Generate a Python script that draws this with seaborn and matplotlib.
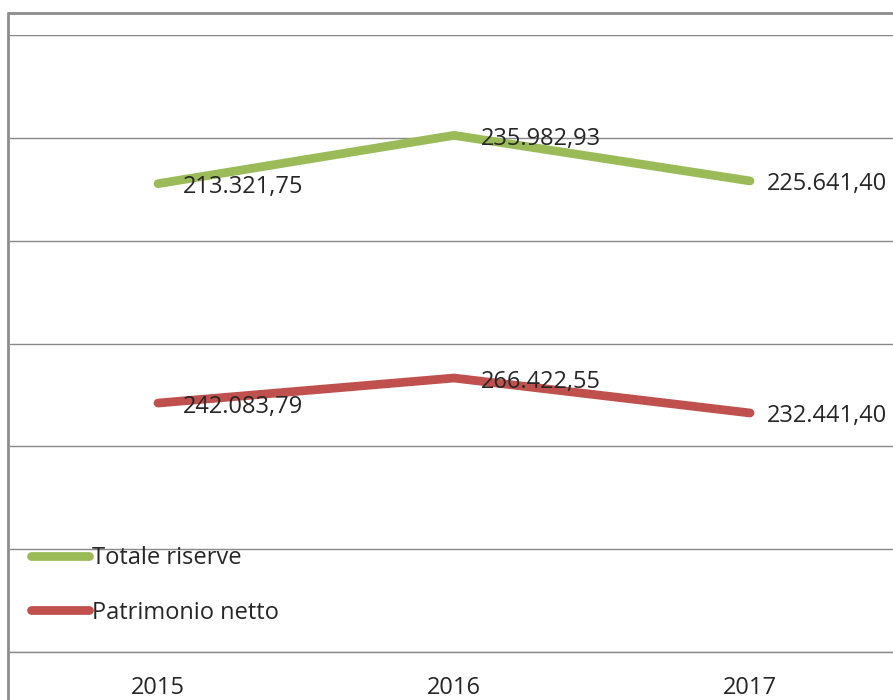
import pandas as pd
import matplotlib
matplotlib.use('Agg')
import matplotlib.pyplot as plt
from matplotlib.lines import Line2D
import seaborn as sns

# data
years = [2015, 2016, 2017]
year_labels = ['2015', '2016', '2017']
totale_riserve = [213321.75, 235982.93, 225641.40]
patrimonio_netto = [242083.79, 266422.55, 232441.40]

sns.set_style('white')
plt.rcParams['font.family'] = ['Open Sans', 'DejaVu Sans']

# grafico a linee in pila (stacked): riserve sopra il patrimonio
df_pn = pd.DataFrame({'anno': years, 'valore': patrimonio_netto, 'label': patrimonio_netto,
                      'serie': 'Patrimonio netto'})
df_ris = pd.DataFrame({'anno': years,
                       'valore': [p + r for p, r in zip(patrimonio_netto, totale_riserve)],
                       'label': totale_riserve, 'serie': 'Totale riserve'})
df = pd.concat([df_ris, df_pn], ignore_index=True)

colori = {'Totale riserve': '#9BBB59', 'Patrimonio netto': '#C0504D'}

W, H = 893, 700
fig = plt.figure(figsize=(W / 100, H / 100), dpi=100)
ax = fig.add_axes([10 / W, 48 / H, 888 / W, 617 / H])

sns.lineplot(data=df, x='anno', y='valore', hue='serie',
             hue_order=['Totale riserve', 'Patrimonio netto'],
             palette=colori, linewidth=6.3, solid_capstyle='round', ax=ax)

def fmt_it(v):
    s = f"{v:,.2f}"
    return s.replace(',', 'X').replace('.', ',').replace('X', '.')

# etichette dati
offsets = [25, 27, 17]
for _, row in df.iterrows():
    i = years.index(row['anno'])
    ax.annotate(fmt_it(row['label']), (row['anno'], row['valore']),
                xytext=(offsets[i] * 0.72, -2.5), textcoords='offset points',
                ha='left', va='center', fontsize=17, color='#262626',
                annotation_clip=False)

ax.set_xlim(2014.5, 2017.5)
ax.set_ylim(0, 600000)
ax.set_yticks(range(0, 600001, 100000))
ax.set_yticklabels([])
ax.set_xticks(years)
ax.set_xticklabels(year_labels)
ax.set_xticks([2015.5, 2016.5], minor=True)
ax.tick_params(axis='x', which='major', length=0, labelsize=17, pad=17, labelcolor='#262626')
ax.tick_params(axis='x', which='minor', length=10, width=1, color='#999999', direction='out')
ax.tick_params(axis='y', length=0)
ax.grid(axis='y', color='#888888', linewidth=1)
ax.set_xlabel('')
ax.set_ylabel('')
for s in ['top', 'right', 'left']:
    ax.spines[s].set_visible(False)
ax.spines['bottom'].set_color('#888888')
ax.spines['bottom'].set_linewidth(1)

leg = ax.legend(loc='upper left', bbox_to_anchor=(31 / W, 1 - 546 / H),
                bbox_transform=fig.transFigure, frameon=False, fontsize=17,
                handlelength=2.45, handletextpad=0.12, labelspacing=1.3,
                borderpad=0, borderaxespad=0)
for t in leg.get_texts():
    t.set_color('#262626')
for h in leg.get_lines():
    h.set_linewidth(6.3)
    h.set_solid_capstyle('round')

# cornice dell'area grafico
fig.add_artist(Line2D([8 / W, 8 / W], [0, 1 - 13 / H], transform=fig.transFigure,
                      color='#8c8c8c', linewidth=2))
fig.add_artist(Line2D([8 / W, 1], [1 - 13 / H, 1 - 13 / H], transform=fig.transFigure,
                      color='#8c8c8c', linewidth=2))

fig.savefig('out.png', dpi=100)
